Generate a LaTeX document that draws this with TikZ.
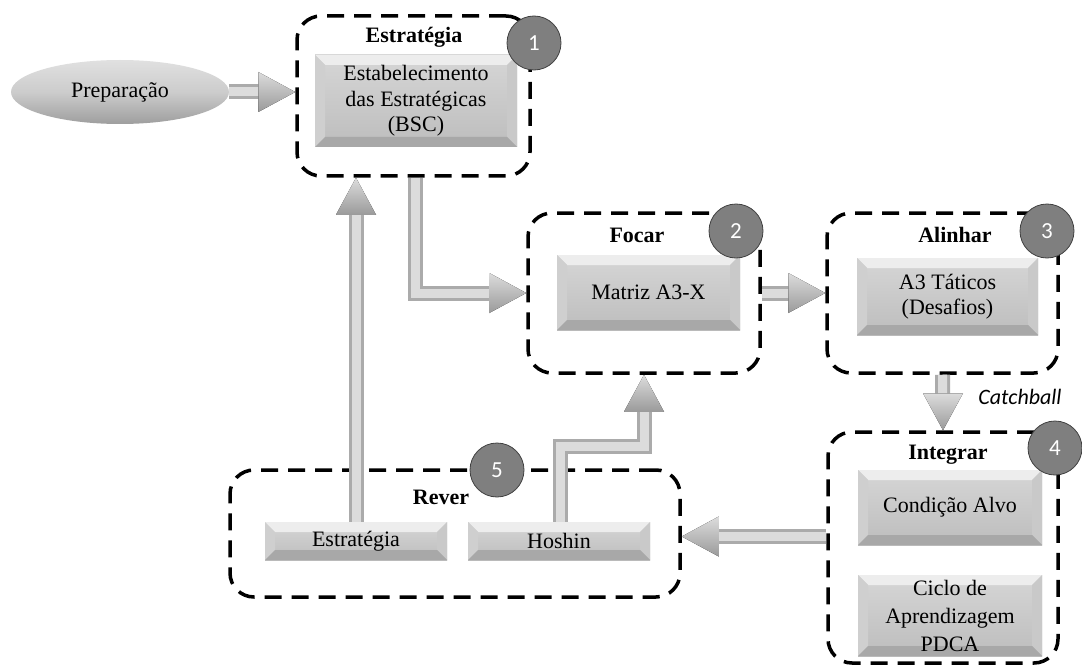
\documentclass[tikz,border=0pt]{standalone}
\usepackage{fontspec}
\setmainfont{Liberation Serif}
\newfontfamily\calfont{Carlito}
\usetikzlibrary{calc,shapes.geometric}
\definecolor{facetop}{HTML}{D6D6D6}
\definecolor{facebot}{HTML}{BDBDBD}
\definecolor{bvtopc}{HTML}{EDEDED}
\definecolor{bvleftc}{HTML}{CFCFCF}
\definecolor{bvrightc}{HTML}{C9C9C9}
\definecolor{bvbotc}{HTML}{A8A8A8}
\definecolor{circfill}{HTML}{7F7F7F}
\definecolor{circline}{HTML}{404040}
\definecolor{shaftdark}{HTML}{ABABAB}
\definecolor{shaftlight}{HTML}{DCDCDC}
\definecolor{headlight}{HTML}{DCDCDC}
\definecolor{headdark}{HTML}{9A9A9A}
\def\bvsz{10pt}
\newcommand\arrhead[2]{\fill[top color=headlight,bottom color=headdark,shift={#1},rotate=#2] (0,0) -- (-37,-20) -- (-37,20) -- cycle;}
\begin{document}
\begin{tikzpicture}[x=1pt,y=-1pt,
  bodyfont/.style={font=\fontsize{22}{25.5}\selectfont},
  grp/.style={draw=black,line width=3.5pt,dash pattern=on 17pt off 10pt,rounded corners=24pt,inner sep=0pt},
  ttl/.style={font=\fontsize{22}{26}\selectfont\bfseries},
  bevel/.style={rectangle,inner sep=0pt,align=center,bodyfont,
    top color=facetop,bottom color=facebot,
    path picture={
      \path (path picture bounding box.north west) coordinate (pnw)
            (path picture bounding box.north east) coordinate (pne)
            (path picture bounding box.south east) coordinate (pse)
            (path picture bounding box.south west) coordinate (psw);
      \fill[bvtopc] (pnw) -- (pne) -- ([xshift=-\bvsz,yshift=-\bvsz]pne) -- ([xshift=\bvsz,yshift=-\bvsz]pnw) -- cycle;
      \fill[bvleftc] (pnw) -- ([xshift=\bvsz,yshift=-\bvsz]pnw) -- ([xshift=\bvsz,yshift=\bvsz]psw) -- (psw) -- cycle;
      \fill[bvrightc] (pne) -- ([xshift=-\bvsz,yshift=-\bvsz]pne) -- ([xshift=-\bvsz,yshift=\bvsz]pse) -- (pse) -- cycle;
      \fill[bvbotc] (psw) -- ([xshift=\bvsz,yshift=\bvsz]psw) -- ([xshift=-\bvsz,yshift=\bvsz]pse) -- (pse) -- cycle;
    }},
  num/.style={circle,minimum size=54pt,inner sep=0pt,fill=circfill,draw=circline,line width=0.8pt,text=white,font=\calfont\fontsize{23}{26}\selectfont},
  shaftout/.style={line width=15pt,draw=shaftdark,line join=miter},
  shaftin/.style={line width=9pt,draw=shaftlight,line join=miter}
]
\useasboundingbox (0,0) rectangle (1082,666);
\fill[white] (0,0) rectangle (1082,666);

% groups
\node[grp,minimum width=233pt,minimum height=160pt] (g1) at (413.5,96) {};
\node[grp,minimum width=232pt,minimum height=160pt] (g2) at (644,293) {};
\node[grp,minimum width=231pt,minimum height=160pt] (g3) at (942.5,293) {};
\node[grp,minimum width=230pt,minimum height=231pt] (g4) at (943,547.5) {};
\node[grp,minimum width=450pt,minimum height=127pt] (g5) at (455,533.5) {};

% titles
\node[ttl] (t1) at (414,37) {Estratégia};
\node[ttl] (t2) at (637,235) {Focar};
\node[ttl] (t3) at (955,235) {Alinhar};
\node[ttl] (t4) at (948,455) {Integrar};
\node[ttl] (t5) at (441,497) {Rever};

% preparation ellipse
\node[ellipse,minimum width=218pt,minimum height=64pt,inner sep=0pt,
  top color=white!88!black,bottom color=white!62!black,middle color=white!80!black,
  bodyfont] (prep) at (120,92) {Preparação};

% boxes
\node[bevel,minimum width=202pt,minimum height=92pt] (b1) at (416,101) {Estabelecimento\\das Estratégicas\\(BSC)};
\node[bevel,minimum width=183pt,minimum height=75pt] (b2) at (648.5,292.5) {Matriz A3-X};
\node[bevel,minimum width=181pt,minimum height=77pt] (b3) at (947.5,296.5) {A3 Táticos\\(Desafios)};
\node[bevel,minimum width=184pt,minimum height=75pt] (b4a) at (950,507.5) {Condição Alvo};
\node[bevel,minimum width=184pt,minimum height=81pt,font=\fontsize{22}{28}\selectfont] (b4b) at (950,615.5) {Ciclo de\\Aprendizagem\\PDCA};
\node[bevel,minimum width=182pt,minimum height=38pt] (b5a) at (356,541) {Estratégia};
\node[bevel,minimum width=182pt,minimum height=38pt] (b5b) at (559,541) {Hoshin};

% arrows
% Preparacao -> Estrategia
\draw[shaftout,shorten >=32pt] (prep.east) -- (prep.east -| g1.west);
\draw[shaftin,shorten >=34pt] (prep.east) -- (prep.east -| g1.west);
\arrhead{(prep.east -| g1.west)}{0}
% Estrategia -> Focar
\draw[shaftout,shorten >=32pt] ([xshift=2pt]g1.south) |- (g2.west);
\draw[shaftin,shorten >=34pt] ([xshift=2pt]g1.south) |- (g2.west);
\arrhead{(g2.west)}{0}
% Focar -> Alinhar
\draw[shaftout,shorten >=32pt] (g2.east) -- (g3.west);
\draw[shaftin,shorten >=34pt] (g2.east) -- (g3.west);
\arrhead{(g3.west)}{0}
% Alinhar -> Integrar (Catchball)
\draw[shaftout,shorten >=32pt] (g3.south) -- (g4.north);
\draw[shaftin,shorten >=34pt] (g3.south) -- (g4.north);
\arrhead{(g4.north)}{270}
% Integrar -> Rever
\draw[shaftout,shorten >=32pt] ([yshift=-3pt]g4.west |- g5.east) -- ([yshift=-3pt]g5.east);
\draw[shaftin,shorten >=34pt] ([yshift=-3pt]g4.west |- g5.east) -- ([yshift=-3pt]g5.east);
\arrhead{([yshift=-3pt]g5.east)}{180}
% Rever/Estrategia -> Estrategia group
\draw[shaftout,shorten >=32pt] (b5a.north) -- (b5a.north |- g1.south);
\draw[shaftin,shorten >=34pt] (b5a.north) -- (b5a.north |- g1.south);
\arrhead{(b5a.north |- g1.south)}{90}
% Rever/Hoshin -> Focar
\draw[shaftout,shorten >=32pt] ([xshift=1pt]b5b.north) |- ($(g2.south)+(0,72)$) -- (g2.south);
\draw[shaftin,shorten >=34pt] ([xshift=1pt]b5b.north) |- ($(g2.south)+(0,72)$) -- (g2.south);
\arrhead{(g2.south)}{90}

\node[font=\calfont\itshape\fontsize{22}{24}\selectfont] (cb) at (1020,397) {Catchball};

% numbers
\node[num] (c1) at (534,43) {1};
\node[num] (c2) at (736,231) {2};
\node[num] (c3) at (1047,231) {3};
\node[num] (c4) at (1055,448) {4};
\node[num] (c5) at (497,470) {5};
\end{tikzpicture}
\end{document}
